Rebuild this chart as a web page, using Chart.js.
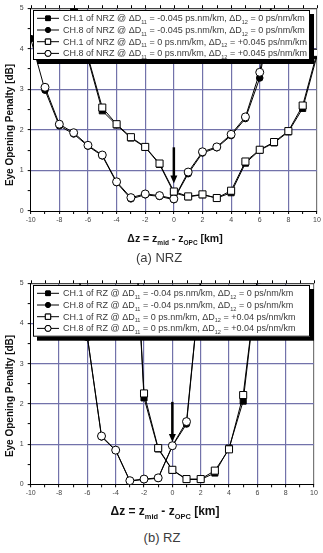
<!DOCTYPE html>
<html>
<head>
<meta charset="utf-8">
<script src="https://cdn.jsdelivr.net/npm/chart.js@4"></script>
<style>
body{margin:0;background:#fff;width:323px;height:553px;position:relative;overflow:hidden;font-family:"Liberation Sans",Arial,sans-serif}
canvas{position:absolute;left:0}
.cap{position:absolute;font-size:13px;color:#3c3c3c;transform:translate(-50%,-50%);white-space:nowrap}
</style>
</head>
<body>
<canvas id="nrz" width="323" height="250" style="top:0"></canvas>
<canvas id="rz" width="323" height="250" style="top:275px"></canvas>
<div class="cap" style="left:159px;top:257px">(a) NRZ</div>
<div class="cap" style="left:162px;top:537px">(b) RZ</div>
<script>
// x positions (km), -10 .. 10
var zValues = [-10,-9,-8,-7,-6,-5,-4,-3,-2,-1,0,1,2,3,4,5,6,7,8,9,10];

// NRZ, eye opening penalty [dB]
var nrzCh1D11 = [null,null,6.3,4.95,3.75,2.47,2.12,1.8,1.57,1.15,0.45,0.35,0.4,0.32,0.45,1.18,1.5,1.68,1.95,2.53,3.83];
var nrzCh8D11 = [4.25,2.98,2.1,1.9,1.6,1.36,0.7,0.3,0.4,0.36,0.28,0.92,1.43,1.56,1.86,2.28,3.28,5.4,null,null,null];
var nrzCh1D12 = [null,null,null,5.4,3.8,2.55,2.14,1.82,1.58,1.17,0.48,0.36,0.41,0.32,0.5,1.22,1.51,1.7,1.97,2.6,3.9];
var nrzCh8D12 = [null,3.05,2.14,1.93,1.62,1.38,0.72,0.33,0.42,0.38,0.3,0.96,1.46,1.58,1.89,2.32,3.42,5.5,null,null,null];

// RZ
var rzCh1D11 = [null,null,null,null,null,null,null,8.8,2.15,0.88,0.35,0.12,0.12,0.28,0.9,2.07,5.1,null,null,null,null];
var rzCh8D11 = [null,null,null,6.2,3.67,1.18,0.84,0.08,0.12,0.15,0.95,1.5,5.1,null,null,null,null,null,null,null,null];
var rzCh1D12 = [null,null,null,null,null,null,null,8.8,2.26,0.9,0.36,0.13,0.13,0.34,0.87,2.22,5.1,null,null,null,null];
var rzCh8D12 = [null,null,null,6.2,3.67,1.2,0.85,0.09,0.13,0.16,0.96,1.56,5.1,null,null,null,null,null,null,null,null];

// arrow at z = 0: [x, from, to]
var nrzArrow = [0, 1.57, 0.68];
var rzArrow = [0, 2.05, 1.05];

var nrzLabels = [
  'CH.1 of NRZ @ ΔD_{11} = -0.045 ps.nm/km, ΔD_{12} = 0 ps/nm/km',
  'CH.8 of NRZ @ ΔD_{11} = -0.045 ps.nm/km, ΔD_{12} = 0 ps/nm/km',
  'CH.1 of NRZ @ ΔD_{11} = 0 ps.nm/km, ΔD_{12} = +0.045 ps/nm/km',
  'CH.8 of NRZ @ ΔD_{11} = 0 ps.nm/km, ΔD_{12} = +0.045 ps/nm/km'
];
var rzLabels = [
  'CH.1 of RZ @ ΔD_{11} = -0.04 ps.nm/km, ΔD_{12} = 0 ps/nm/km',
  'CH.8 of RZ @ ΔD_{11} = -0.04 ps.nm/km, ΔD_{12} = 0 ps/nm/km',
  'CH.1 of RZ @ ΔD_{11} = 0 ps.nm/km, ΔD_{12} = +0.04 ps/nm/km',
  'CH.8 of RZ @ ΔD_{11} = 0 ps.nm/km, ΔD_{12} = +0.04 ps/nm/km'
];

var FONT = '"Liberation Sans", Arial, sans-serif';
var GRID = '#7272aa';

// marker styles: filled square, filled circle, open square, open circle
var styles = [
  {ps:'rect', r:4.3, fill:'#000', order:2},
  {ps:'circle', r:3.3, fill:'#000', order:2},
  {ps:'rect', r:5, fill:'#fff', order:1},
  {ps:'circle', r:4, fill:'#fff', order:1}
];

function points(vals){
  var out = [];
  zValues.forEach(function(z,i){ if(vals[i] !== null) out.push({x:z, y:vals[i]}); });
  return out;
}

// text with _{sub} parts
function richWidth(ctx, text, size, bold){
  var parts = text.split(/_\{([^}]*)\}/), w = 0;
  parts.forEach(function(p,i){
    ctx.font = (bold?'bold ':'') + (i%2 ? size*0.62 : size) + 'px ' + FONT;
    w += ctx.measureText(p).width;
  });
  return w;
}
function drawRich(ctx, text, x, y, size, bold){
  var parts = text.split(/_\{([^}]*)\}/);
  ctx.textBaseline = 'alphabetic';
  ctx.textAlign = 'left';
  parts.forEach(function(p,i){
    var s = i%2 ? size*0.62 : size;
    ctx.font = (bold?'bold ':'') + s + 'px ' + FONT;
    ctx.fillText(p, x, i%2 ? y + size*0.3 : y);
    x += ctx.measureText(p).width;
  });
}

function makeChart(id, series, labels, arrow, lay){
  var datasets = series.map(function(vals,i){
    var st = styles[i];
    return {
      label: labels[i],
      data: points(vals),
      borderColor:'#000', borderWidth:1,
      pointStyle: st.ps, pointRadius: st.r, pointHoverRadius: st.r,
      pointBackgroundColor: st.fill, pointBorderColor:'#000', pointBorderWidth:1,
      order: st.order
    };
  });

  var extras = {
    id:'extras',
    afterDraw: function(chart){
      var ctx = chart.ctx, xs = chart.scales.x, ys = chart.scales.y, ca = chart.chartArea;
      ctx.save();
      // top axis ticks
      ctx.strokeStyle = '#000'; ctx.lineWidth = 1;
      xs.ticks.forEach(function(t){
        var px = Math.round(xs.getPixelForValue(t.value)) + 0.5;
        ctx.beginPath(); ctx.moveTo(px, ca.top); ctx.lineTo(px, ca.top - 3); ctx.stroke();
      });
      // arrow
      var ax = xs.getPixelForValue(arrow[0]);
      var a0 = ys.getPixelForValue(arrow[1]), a1 = ys.getPixelForValue(arrow[2]);
      ctx.strokeStyle = '#000'; ctx.fillStyle = '#000'; ctx.lineWidth = 2.5;
      ctx.beginPath(); ctx.moveTo(ax, a0); ctx.lineTo(ax, a1 - 7); ctx.stroke();
      ctx.beginPath(); ctx.moveTo(ax - 3.5, a1 - 8); ctx.lineTo(ax + 3.5, a1 - 8); ctx.lineTo(ax, a1); ctx.closePath(); ctx.fill();

      // legend box with shadow
      var L = lay.legend;
      ctx.fillStyle = '#000';
      ctx.fillRect(L.x + 4, L.y + 4, L.w, L.h);
      ctx.fillStyle = '#fff';
      ctx.fillRect(L.x, L.y, L.w, L.h);
      ctx.lineWidth = 1; ctx.strokeStyle = '#000';
      ctx.strokeRect(L.x + 0.5, L.y + 0.5, L.w - 1, L.h - 1);
      chart.data.datasets.forEach(function(ds,i){
        var ry = L.y + 8.3 + i*11.7;
        ctx.strokeStyle = '#000'; ctx.lineWidth = 1;
        ctx.beginPath(); ctx.moveTo(L.x + 4, ry); ctx.lineTo(L.x + 26, ry); ctx.stroke();
        Chart.helpers.drawPoint(ctx, {pointStyle: styles[i].ps, radius: styles[i].r*0.75, borderWidth:1}, L.x + 15, ry);
        ctx.fillStyle = styles[i].fill;
        ctx.fill();
        ctx.stroke();
        ctx.fillStyle = '#3a3a3a';
        drawRich(ctx, ds.label, L.x + 30, ry + 3, 9, false);
      });

      // axis titles
      ctx.fillStyle = '#111';
      var xt = 'Δz = z_{mid} - z_{OPC} [km]';
      var w = richWidth(ctx, xt, lay.xTitleSize, true);
      drawRich(ctx, xt, lay.xTitleX - w/2, lay.xTitleY + lay.xTitleSize*0.35, lay.xTitleSize, true);
      ctx.translate(10, lay.yTitleY);
      ctx.rotate(-Math.PI/2);
      ctx.font = 'bold 10px ' + FONT;
      ctx.textAlign = 'center'; ctx.textBaseline = 'middle';
      ctx.fillText('Eye Opening Penalty [dB]', 0, 0);
      ctx.restore();
    }
  };

  return new Chart(document.getElementById(id), {
    type:'line',
    data:{ datasets: datasets },
    options:{
      responsive:false,
      animation:false,
      devicePixelRatio:1,
      layout:{ padding: lay.padding },
      plugins:{ legend:{display:false}, tooltip:{enabled:false} },
      scales:{
        x:{
          type:'linear', min:-10, max:10,
          ticks:{ stepSize:1, autoSkip:false, maxRotation:0, padding:2, color:'#444',
                  font:{size:7, family:FONT},
                  callback:function(v){ return v % 2 === 0 ? v : ''; } },
          grid:{ lineWidth:1.2, tickLength:3, tickColor:'#000', tickWidth:1,
                 color:function(c){
                   var v = c.tick ? c.tick.value : 0;
                   if (v === 10) return '#777';
                   if (v === -10 || v % 2 !== 0) return 'rgba(0,0,0,0)';
                   return GRID;
                 } },
          border:{ color:'#000', width:1 },
          afterFit:function(s){ s.height = 14; }
        },
        y:{
          min:0, max:5,
          ticks:{ stepSize:0.5, autoSkip:false, padding:4, color:'#444',
                  font:{size:7, family:FONT},
                  callback:function(v){ return Number.isInteger(v) ? v : ''; } },
          grid:{ lineWidth:1.2, tickLength:3, tickColor:'#000', tickWidth:1,
                 color:function(c){
                   var v = c.tick ? c.tick.value : 0;
                   if (v === 5) return '#444';
                   if (v === 0 || !Number.isInteger(v)) return 'rgba(0,0,0,0)';
                   return GRID;
                 } },
          border:{ color:'#000', width:1 },
          afterFit:function(s){ s.width = 30.7; }
        }
      }
    },
    plugins:[extras]
  });
}

makeChart('nrz', [nrzCh1D11, nrzCh8D11, nrzCh1D12, nrzCh8D12], nrzLabels, nrzArrow, {
  padding:{top:6.5, right:5, left:0, bottom:25},
  legend:{x:33, y:10, w:277, h:50},
  xTitleX:175, xTitleY:238, xTitleSize:10.5, yTitleY:125
});
makeChart('rz', [rzCh1D11, rzCh8D11, rzCh1D12, rzCh8D12], rzLabels, rzArrow, {
  padding:{top:8.3, right:9, left:0, bottom:26.7},
  legend:{x:33, y:10, w:277, h:51.7},
  xTitleX:165, xTitleY:236, xTitleSize:12, yTitleY:121
});
</script>
</body>
</html>
